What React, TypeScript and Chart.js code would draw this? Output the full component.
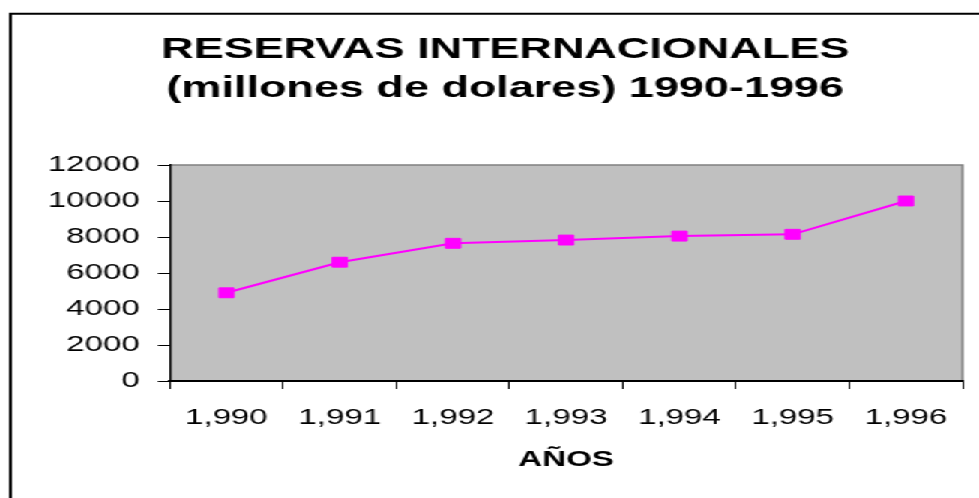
import { useEffect, useRef } from "react";
import { Chart, registerables } from "chart.js";

Chart.register(...registerables);

// ---- data ----
const categories = ["1,990", "1,991", "1,992", "1,993", "1,994", "1,995", "1,996"];
const reservas = [4900, 6600, 7650, 7830, 8050, 8150, 10000];
const titleLines = ["RESERVAS INTERNACIONALES", "(millones de dolares) 1990-1996"];
const xAxisTitle = "AÑOS";
const yMin = 0;
const yMax = 12000;
const yStep = 2000;

// ---- layout (internal canvas is stretched horizontally like the original) ----
const W = 653;
const H = 498;
const SX = 979 / W;
const FONT = "'Liberation Sans', Arial, Helvetica, sans-serif";

const backgroundPlugin = {
  id: "excelBackground",
  beforeDraw(chart: any) {
    const { ctx, chartArea } = chart;
    ctx.save();
    ctx.fillStyle = "#ffffff";
    ctx.fillRect(0, 0, chart.width, chart.height);
    // outer frame (continues past the page edges)
    ctx.strokeStyle = "#000000";
    ctx.lineWidth = 2;
    ctx.beginPath();
    ctx.moveTo(7, chart.height + 5);
    ctx.lineTo(7, 13.7);
    ctx.lineTo(chart.width + 5, 13.7);
    ctx.stroke();
    // plot area
    ctx.fillStyle = "#C0C0C0";
    ctx.fillRect(chartArea.left, chartArea.top, chartArea.right - chartArea.left, chartArea.bottom - chartArea.top);
    ctx.strokeStyle = "#808080";
    ctx.lineWidth = 1.5;
    ctx.beginPath();
    ctx.moveTo(chartArea.left, chartArea.top);
    ctx.lineTo(chartArea.right, chartArea.top);
    ctx.lineTo(chartArea.right, chartArea.bottom);
    ctx.stroke();
    ctx.restore();
  },
};

export default function App() {
  const ref = useRef<HTMLCanvasElement | null>(null);

  useEffect(() => {
    document.body.style.overflow = "hidden";
    const canvas = ref.current;
    if (!canvas) return;
    const chart = new Chart(canvas, {
      type: "line",
      data: {
        labels: categories,
        datasets: [
          {
            label: "Reservas",
            data: reservas,
            borderColor: "#FF00FF",
            backgroundColor: "#FF00FF",
            borderWidth: 2,
            pointStyle: "rect",
            pointRadius: 7,
            pointBackgroundColor: "#FF00FF",
            pointBorderColor: "#FF00FF",
            pointBorderWidth: 1,
            tension: 0,
            clip: false as any,
          },
        ],
      },
      options: {
        responsive: false,
        animation: false,
        devicePixelRatio: 1,
        events: [],
        layout: { padding: { left: 32, right: 11, top: 0, bottom: 0 } },
        plugins: {
          legend: { display: false },
          tooltip: { enabled: false },
          title: {
            display: true,
            text: titleLines,
            color: "#000000",
            font: { family: FONT, size: 30, weight: "bold", lineHeight: 1.28 },
            padding: { top: 31, bottom: 57.2 },
          },
        },
        scales: {
          x: {
            type: "category",
            offset: true,
            grid: {
              display: true,
              drawOnChartArea: false,
              drawTicks: true,
              tickLength: 8,
              offset: true,
              color: "#000000",
              tickColor: "#000000",
              tickWidth: 1,
              lineWidth: 1,
            },
            border: { display: true, color: "#000000", width: 2 },
            ticks: {
              color: "#000000",
              font: { family: FONT, size: 22 },
              padding: 16,
              maxRotation: 0,
              minRotation: 0,
              autoSkip: false,
            },
            title: {
              display: true,
              text: xAxisTitle,
              color: "#000000",
              font: { family: FONT, size: 22, weight: "bold", lineHeight: 1.2 },
              padding: { top: 0, bottom: 25 },
            },
            afterFit: (s: any) => {
              s.height = 117;
            },
          },
          y: {
            min: yMin,
            max: yMax,
            ticks: {
              stepSize: yStep,
              color: "#000000",
              font: { family: FONT, size: 22 },
              padding: 12,
              callback: (v: any) => String(v),
            },
            grid: {
              display: true,
              drawOnChartArea: false,
              drawTicks: true,
              tickLength: 8,
              color: "#000000",
              tickColor: "#000000",
              tickWidth: 1,
            },
            border: { display: true, color: "#000000", width: 1.4 },
            afterFit: (s: any) => {
              s.width = 81.3;
            },
          },
        },
      },
      plugins: [backgroundPlugin],
    });
    return () => chart.destroy();
  }, []);

  return (
    <div
      style={{
        position: "absolute",
        left: 0,
        top: 0,
        width: W,
        height: H,
        transform: `scaleX(${SX})`,
        transformOrigin: "0 0",
        background: "#ffffff",
      }}
    >
      <canvas ref={ref} width={W} height={H} style={{ display: "block", width: W, height: H }} />
    </div>
  );
}
